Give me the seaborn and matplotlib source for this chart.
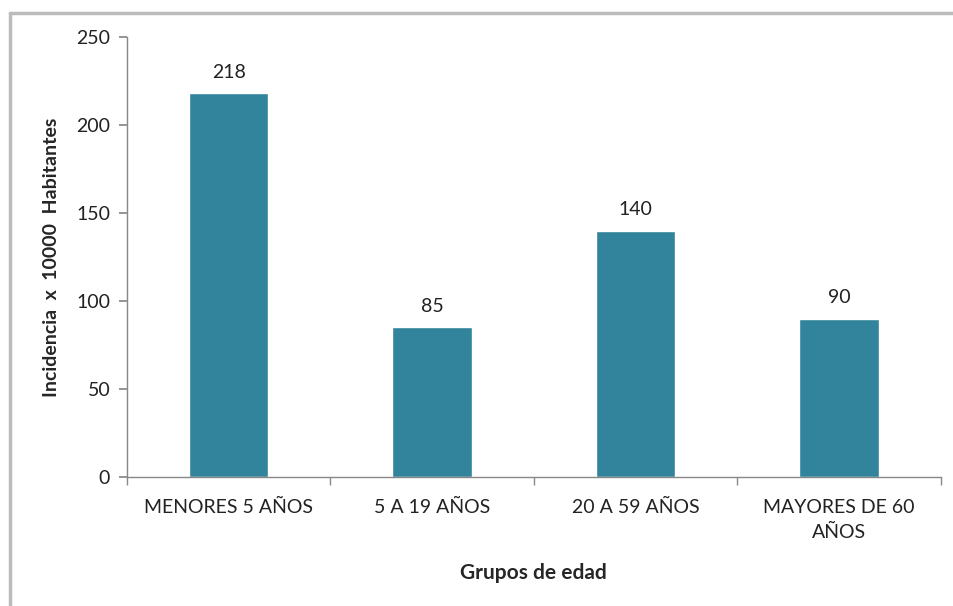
import matplotlib
matplotlib.use("Agg")
import matplotlib.pyplot as plt
import seaborn as sns
import pandas as pd
from matplotlib.lines import Line2D

# data
grupos = ["MENORES 5 AÑOS", "5 A 19 AÑOS", "20 A 59 AÑOS", "MAYORES DE 60\nAÑOS"]
incidencia = [218, 85, 140, 90]
y_ticks = [0, 50, 100, 150, 200, 250]

sns.set_theme(style="white")
plt.rcParams["font.family"] = ["Lato", "DejaVu Sans"]

df = pd.DataFrame({"grupo": grupos, "incidencia": incidencia})

fig = plt.figure(figsize=(9.54, 6.06), dpi=100)
ax = fig.add_axes([0.133, 0.213, 0.853, 0.726])

sns.barplot(data=df, x="grupo", y="incidencia", color="#31849B",
            saturation=1, width=0.39, ax=ax)

for i, v in enumerate(incidencia):
    ax.annotate(str(v), (i, v), xytext=(0, 9), textcoords="offset points",
                ha="center", va="bottom", fontsize=14, color="#222222")

ax.set_ylim(0, 250)
ax.set_yticks(y_ticks)
ax.set_xlim(-0.5, len(grupos) - 0.5)

# category labels without ticks, tick marks at the category boundaries
ax.tick_params(axis="x", which="major", length=0, pad=16, labelsize=14, colors="#222222")
ax.set_xticks(range(len(grupos)))
ax.set_xticklabels(grupos)
for t in ax.get_xticklabels():
    t.set_linespacing(1.55)
ax.set_xticks([i - 0.5 for i in range(len(grupos) + 1)], minor=True)
ax.tick_params(axis="x", which="minor", length=6, bottom=True, color="#888888", width=1)
ax.tick_params(axis="y", length=6, left=True, color="#888888", labelsize=14,
               labelcolor="#222222", pad=6)

for s in ["top", "right"]:
    ax.spines[s].set_visible(False)
for s in ["left", "bottom"]:
    ax.spines[s].set_color("#888888")
    ax.spines[s].set_linewidth(1)

ax.set_xlabel("Grupos de edad", fontsize=15, fontweight="bold", labelpad=16)
ax.set_ylabel("Incidencia  x  10000  Habitantes", fontsize=14, fontweight="bold", labelpad=12)

# outer chart frame: only left and top edges show in the screenshot
fig.lines.append(Line2D([0.010, 0.010], [0.0, 0.978], transform=fig.transFigure,
                        color="#BBBBBB", linewidth=2.5))
fig.lines.append(Line2D([0.010, 1.0], [0.978, 0.978], transform=fig.transFigure,
                        color="#BBBBBB", linewidth=2.5))

fig.savefig("out.png", dpi=100)
